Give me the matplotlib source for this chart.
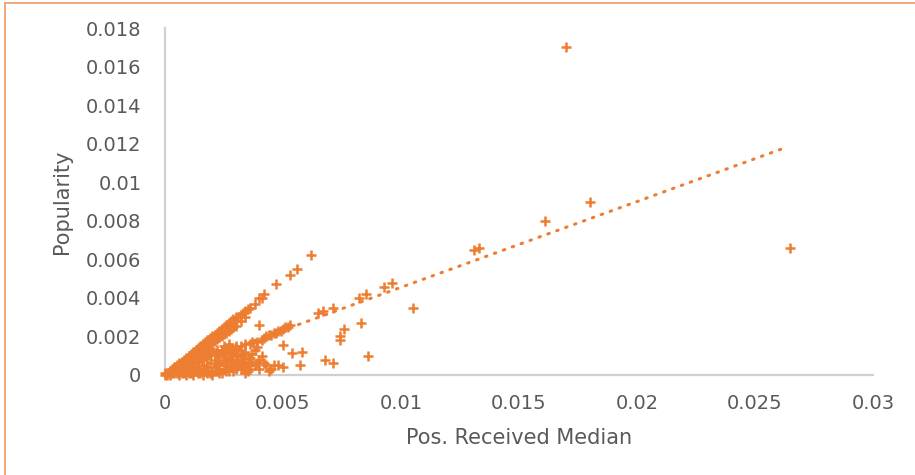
import matplotlib
matplotlib.use("Agg")
import matplotlib.pyplot as plt
from matplotlib.lines import Line2D

# ---- data ----
# isolated / outlying points
outlier_x = [0.0170, 0.0180, 0.0161, 0.0265, 0.0131, 0.0133, 0.0105, 0.0096, 0.0093,
             0.0082, 0.0085, 0.0071, 0.0067, 0.0065, 0.0083, 0.0076, 0.0074, 0.0074,
             0.0086, 0.0054, 0.0058, 0.0057, 0.0068, 0.0071, 0.0050, 0.0040, 0.0039]
outlier_y = [0.0170, 0.0090, 0.0080, 0.0066, 0.0065, 0.0066, 0.0035, 0.00475, 0.00455,
             0.0040, 0.0042, 0.00346, 0.0033, 0.0032, 0.0027, 0.0024, 0.0020, 0.0018,
             0.0010, 0.00114, 0.0012, 0.0005, 0.0008, 0.0006, 0.00155, 0.0026, 0.00145]

# points along the steep (y ~ x) ray
steep_x = [0.0001, 0.0002, 0.0002, 0.0003, 0.0003, 0.0004, 0.0004, 0.0005, 0.0005, 0.0006,
           0.0006, 0.0007, 0.0007, 0.0008, 0.0008, 0.0009, 0.0009, 0.0010, 0.0010, 0.0011,
           0.0011, 0.0012, 0.0012, 0.0013, 0.0013, 0.0014, 0.0014, 0.0015, 0.0015, 0.0016,
           0.0016, 0.0017, 0.0017, 0.0018, 0.0018, 0.0019, 0.0019, 0.0020, 0.0020, 0.0021,
           0.0021, 0.0022, 0.0022, 0.0023, 0.0023, 0.0024, 0.0024, 0.0025, 0.0025, 0.0026,
           0.0026, 0.0027, 0.0027, 0.0028, 0.0028, 0.0029, 0.0029, 0.0030, 0.0030, 0.0031,
           0.0032, 0.0033, 0.0034, 0.0035, 0.0036, 0.0038, 0.0040, 0.0041, 0.0042, 0.0047,
           0.0053, 0.0056, 0.0062]
steep_y = [0.0001, 0.0002, 0.0001, 0.0003, 0.0002, 0.0004, 0.0003, 0.0005, 0.0004, 0.0006,
           0.0005, 0.0007, 0.0005, 0.0008, 0.0006, 0.0009, 0.0007, 0.0010, 0.0008, 0.0011,
           0.0009, 0.0012, 0.0010, 0.0013, 0.0011, 0.0014, 0.0012, 0.0015, 0.0013, 0.0016,
           0.0014, 0.0017, 0.0015, 0.0018, 0.0016, 0.0019, 0.0017, 0.0020, 0.0018, 0.0021,
           0.0019, 0.0022, 0.0020, 0.0023, 0.0021, 0.0024, 0.0022, 0.0025, 0.0023, 0.0026,
           0.0024, 0.0027, 0.0025, 0.0028, 0.0026, 0.0029, 0.0027, 0.0030, 0.0028, 0.0030,
           0.0031, 0.0032, 0.0033, 0.0034, 0.0035, 0.0037, 0.0040, 0.0040, 0.0042, 0.0047,
           0.0052, 0.0055, 0.0062]

# lower edge of the steep band
steep_low_x = [0.0005, 0.0006, 0.0007, 0.0008, 0.0009, 0.0010, 0.0011, 0.0012, 0.0013,
               0.0014, 0.0015, 0.0016, 0.0017, 0.0018, 0.0019, 0.0020, 0.0021, 0.0022,
               0.0023, 0.0024, 0.0025, 0.0026, 0.0027, 0.0028, 0.0029, 0.0030, 0.0032,
               0.0034]
steep_low_y = [0.00035, 0.00042, 0.00049, 0.00056, 0.00063, 0.0007, 0.00077, 0.00086,
               0.00095, 0.00105, 0.00125, 0.00135, 0.00145, 0.00153, 0.00162, 0.0017,
               0.00178, 0.00187, 0.00196, 0.00204, 0.00212, 0.0022, 0.0023, 0.0024,
               0.00247, 0.00255, 0.0028, 0.0030]

# points along the middle (y ~ x/2) ray
mid_x = [0.0016, 0.0018, 0.0019, 0.0022, 0.0024, 0.0025, 0.0026, 0.0027, 0.0028, 0.0030,
         0.0032, 0.0034, 0.0036, 0.0037, 0.0039, 0.0041, 0.0042, 0.0043, 0.0044, 0.0045,
         0.0046, 0.0047, 0.0048, 0.0049, 0.0050, 0.0051, 0.0052, 0.0053]
mid_y = [0.0011, 0.0013, 0.0014, 0.0011, 0.0012, 0.0015, 0.0013, 0.0016, 0.0014, 0.0015,
         0.0015, 0.0016, 0.0016, 0.0017, 0.0017, 0.0018, 0.0019, 0.0020, 0.0021, 0.0021,
         0.0022, 0.0022, 0.0023, 0.0023, 0.0024, 0.0025, 0.0025, 0.0026]

# low cluster near the x axis
low_x = [0.0005, 0.0006, 0.0007, 0.0008, 0.0008, 0.0009, 0.0010, 0.0010, 0.0011, 0.0012,
         0.0012, 0.0013, 0.0014, 0.0014, 0.0015, 0.0016, 0.0016, 0.0017, 0.0018, 0.0018,
         0.0019, 0.0020, 0.0020, 0.0021, 0.0022, 0.0022, 0.0023, 0.0023, 0.0024, 0.0025,
         0.0025, 0.0026, 0.0027, 0.0027, 0.0028, 0.0029, 0.0030, 0.0030, 0.0031, 0.0032,
         0.0033, 0.0034, 0.0035, 0.0036, 0.0038, 0.0039, 0.0042, 0.0046, 0.0050, 0.0044,
         0.0036, 0.0033, 0.0001, 0.0002, 0.0003, 0.0004, 0.0004, 0.0000, 0.0000, 0.0006,
         0.0009, 0.0012, 0.0015, 0.0019, 0.0023,
         0.0011, 0.0013, 0.0015, 0.0017, 0.0019, 0.0021, 0.0021, 0.0023, 0.0024, 0.0026,
         0.0026, 0.0028, 0.0028, 0.0029, 0.0031, 0.0031, 0.0032, 0.0033, 0.0034, 0.0035,
         0.0035, 0.0037, 0.0037, 0.0038, 0.0040, 0.0040, 0.0041, 0.0043, 0.0045, 0.0048,
         0.0016, 0.0018, 0.0020, 0.0022, 0.0024, 0.0026, 0.0029, 0.0032, 0.0034, 0.0013,
         0.0011, 0.0007, 0.0009, 0.0027, 0.0030]
low_y = [0.0001, 0.0002, 0.0003, 0.0001, 0.0004, 0.0002, 0.0005, 0.0001, 0.0003, 0.0006,
         0.0002, 0.0004, 0.0007, 0.0001, 0.0003, 0.0008, 0.0005, 0.0002, 0.0009, 0.0004,
         0.0006, 0.0012, 0.0002, 0.0008, 0.0005, 0.0013, 0.0010, 0.0001, 0.0007, 0.0003,
         0.0011, 0.0005, 0.0009, 0.0002, 0.0011, 0.0006, 0.0010, 0.0003, 0.0008, 0.0007,
         0.0004, 0.0006, 0.0002, 0.0003, 0.0005, 0.0006, 0.0006, 0.0005, 0.0004, 0.0002,
         0.0009, 0.0011, 0.0000, 0.0000, 0.0001, 0.0001, 0.0002, 0.0001, 0.0000, 0.0000,
         0.0000, 0.0000, 0.0001, 0.0001, 0.0003,
         0.0006, 0.0008, 0.0009, 0.0010, 0.0011, 0.0011, 0.0004, 0.0006, 0.0013, 0.0012,
         0.0008, 0.0007, 0.0004, 0.0012, 0.0013, 0.0005, 0.0010, 0.0007, 0.0012, 0.0009,
         0.0005, 0.0007, 0.0011, 0.0013, 0.0008, 0.0003, 0.0010, 0.0005, 0.0003, 0.0005,
         0.0000, 0.0001, 0.0000, 0.0002, 0.0001, 0.0002, 0.0002, 0.0003, 0.0001, 0.0002,
         0.0001, 0.0001, 0.0004, 0.0013, 0.0014]

# linear trendline end points
trend_x = [0.0, 0.0263]
trend_y = [0.0001, 0.0118]

x_ticks = [0, 0.005, 0.01, 0.015, 0.02, 0.025, 0.03]
x_tick_labels = ["0", "0.005", "0.01", "0.015", "0.02", "0.025", "0.03"]
y_ticks = [0, 0.002, 0.004, 0.006, 0.008, 0.01, 0.012, 0.014, 0.016, 0.018]
y_tick_labels = ["0", "0.002", "0.004", "0.006", "0.008", "0.01", "0.012", "0.014", "0.016", "0.018"]

ORANGE = "#ED7D31"
TEXT = "#595959"
AXIS = "#D0D0D0"

plt.rcParams["font.family"] = ["DejaVu Sans"]

fig = plt.figure(figsize=(9.15, 4.75), dpi=100)
ax = fig.add_axes([165 / 915, 1 - 375 / 475, (873 - 165) / 915, (375 - 28) / 475])

all_x = outlier_x + steep_x + steep_low_x + mid_x + low_x
all_y = outlier_y + steep_y + steep_low_y + mid_y + low_y
ax.scatter(all_x, all_y, marker="+", s=60, linewidths=1.8, color=ORANGE, zorder=3,
           clip_on=False)
ax.plot(trend_x, trend_y, color=ORANGE, linewidth=2.2, linestyle=(0, (0.5, 2.6)),
        dash_capstyle="round", zorder=2)

ax.set_xlim(0, 0.03)
ax.set_ylim(0, 0.018)
ax.set_xticks(x_ticks)
ax.set_xticklabels(x_tick_labels)
ax.set_yticks(y_ticks)
ax.set_yticklabels(y_tick_labels)
ax.tick_params(axis="both", length=0, labelsize=14, colors=TEXT)
ax.tick_params(axis="x", pad=14)
ax.tick_params(axis="y", pad=17)

for s in ["top", "right"]:
    ax.spines[s].set_visible(False)
for s in ["left", "bottom"]:
    ax.spines[s].set_color(AXIS)
    ax.spines[s].set_linewidth(1.6)

ax.set_xlabel("Pos. Received Median", fontsize=15, color=TEXT)
ax.set_ylabel("Popularity", fontsize=15, color=TEXT)
ax.xaxis.set_label_coords(0.5, -(428 - 375) / 347)
ax.yaxis.set_label_coords(-(165 - 72) / 708, 0.5)

# partial border of the original chart frame
fig.add_artist(Line2D([5 / 915, 1], [1 - 3 / 475, 1 - 3 / 475], color="#F0A070",
                      linewidth=1.3, transform=fig.transFigure))
fig.add_artist(Line2D([5 / 915, 5 / 915], [0, 1 - 3 / 475], color="#F0A070",
                      linewidth=1.3, transform=fig.transFigure))

fig.savefig("out.png", dpi=100)
